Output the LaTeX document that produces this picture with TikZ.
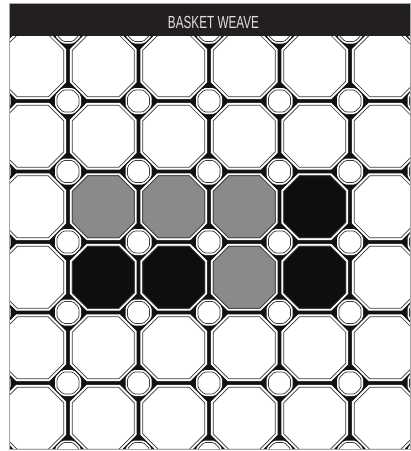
\documentclass[tikz,border=0pt]{standalone}
\usepackage{fontspec}
\newfontfamily\headfont{Liberation Sans}[FakeStretch=0.67]
\definecolor{weaveink}{HTML}{231F20}
\definecolor{grout}{HTML}{121212}
\definecolor{tilegray}{HTML}{8A8A8A}
\definecolor{tileblack}{HTML}{0E0E0E}
\definecolor{tileedge}{HTML}{3A3A3A}

% octagon: centre x, centre y, half width, half side
\newcommand{\octagon}[4]{(#1-#3,#2-#4) -- (#1-#4,#2-#3)
  -- (#1+#4,#2-#3) -- (#1+#3,#2-#4) -- (#1+#3,#2+#4)
  -- (#1+#4,#2+#3) -- (#1-#4,#2+#3) -- (#1-#3,#2+#4) -- cycle}

\begin{document}
\begin{tikzpicture}[x=1pt, y=-1pt, line join=miter,
  groutband/.style={draw=white, line width=4.8pt},
  dotband/.style={draw=white, line width=4pt, rounded corners=1.5pt},
  tileface/.style={draw=tileedge, line width=0.7pt}]
\useasboundingbox (0,0) rectangle (411,451);

% ---- grout bed
\begin{scope}
\clip (9,36) rectangle (410.5,449);
\fill[grout] (9,36) rectangle (410.5,449);

% white bands round every piece
\foreach \i in {0,...,5}
  \foreach \j in {0,...,5}
    \draw[groutband] \octagon{32.75+70.5*\i}{65.75+70.5*\j}{31}{15.5};
\foreach \i in {0,...,6}
  \foreach \j in {0,...,6}
    \draw[dotband] \octagon{-2.5+70.5*\i}{30.5+70.5*\j}{11}{4.8};

% ---- faces
\foreach \i in {0,...,5}
  \foreach \j in {0,...,5}
    \draw[tileface, fill=white] \octagon{32.75+70.5*\i}{65.75+70.5*\j}{31}{15.5};
\foreach \i in {0,...,6}
  \foreach \j in {0,...,6}
    \draw[tileface, fill=white, rounded corners=1.5pt] \octagon{-2.5+70.5*\i}{30.5+70.5*\j}{11}{4.8};

% ---- coloured tiles
\foreach \i/\j/\c in {1/2/tilegray, 2/2/tilegray, 3/2/tilegray, 4/2/tileblack,
                      1/3/tileblack, 2/3/tileblack, 3/3/tilegray, 4/3/tileblack}
  \draw[tileface, fill=\c] \octagon{32.75+70.5*\i}{65.75+70.5*\j}{31}{15.5};
\end{scope}

% ---- title bar
\fill[weaveink] (9,3) rectangle (410.5,36);
\node[anchor=base, inner sep=0, text=white!88!black,
      font=\headfont\fontsize{17.5}{18}\selectfont] (title) at (213.5,28) {BASKET WEAVE};

% ---- frame
\draw[black!35, line width=0.6pt] (9,3) rectangle (410.5,449);

\end{tikzpicture}
\end{document}
